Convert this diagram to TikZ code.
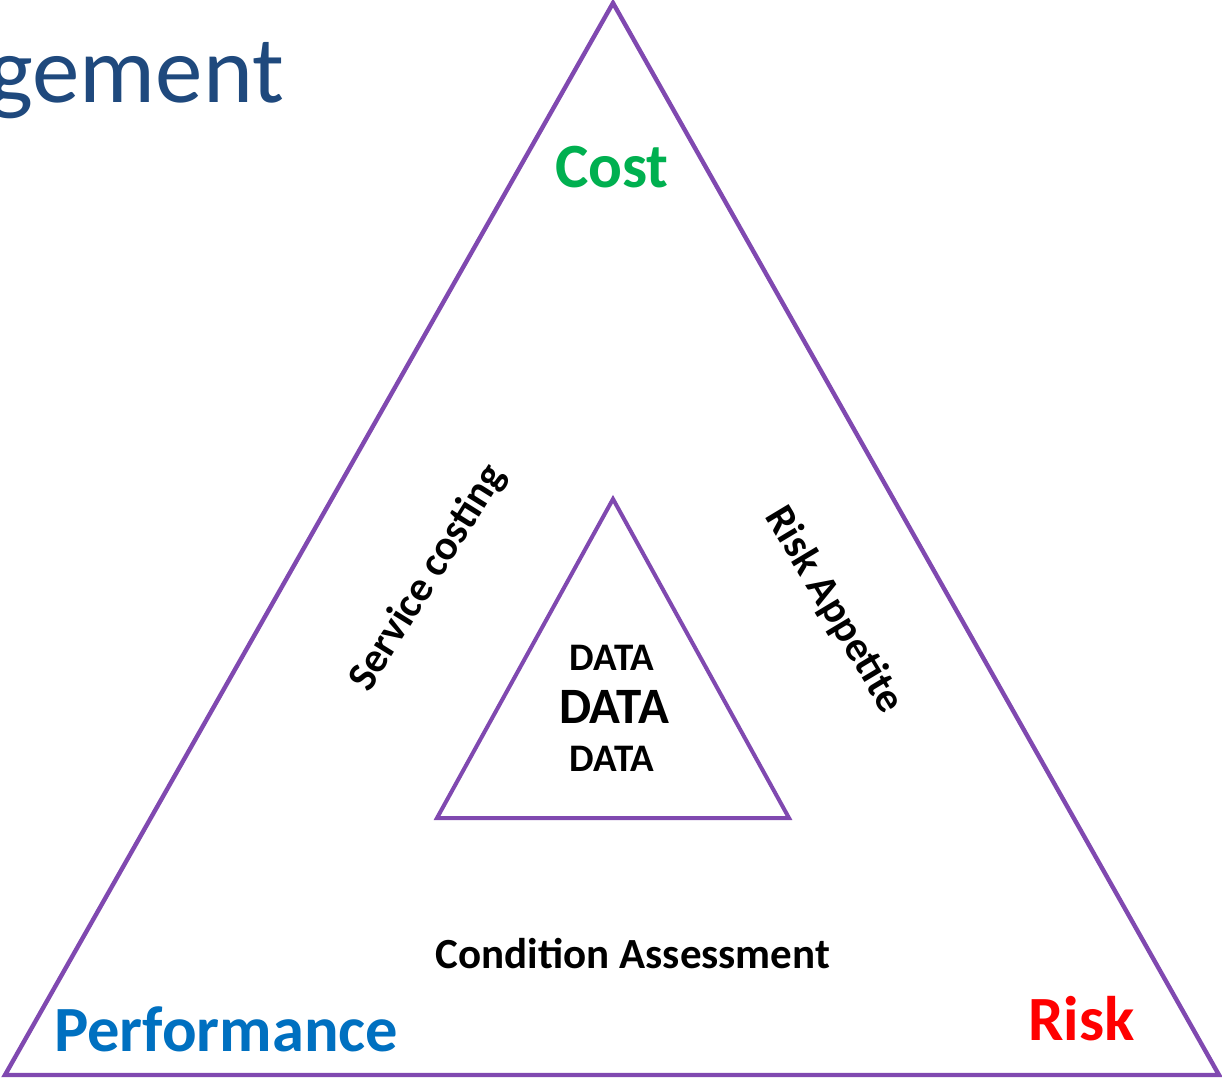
\documentclass[tikz,border=0pt]{standalone}
\usepackage{fontspec}
\setmainfont{Carlito}
\definecolor{tripurple}{HTML}{8049B0}
\definecolor{titleblue}{HTML}{1F497D}
\definecolor{costgreen}{HTML}{00B050}
\definecolor{perfblue}{HTML}{0070C0}
\definecolor{riskred}{HTML}{FF0000}
\begin{document}
\begin{tikzpicture}[x=1pt,y=-1pt,
  tri/.style={draw=tripurple,line width=4.4pt,line join=miter},
  corner/.style={font=\fontsize{63}{70}\selectfont\bfseries,inner sep=0pt},
  side/.style={font=\fontsize{42}{48}\selectfont\bfseries,inner sep=0pt},
  datasm/.style={font=\fontsize{39}{44}\selectfont\bfseries,inner sep=0pt,anchor=base},
  databig/.style={font=\fontsize{51}{56}\selectfont\bfseries,inner sep=0pt,anchor=base}]
\useasboundingbox (0,0) rectangle (1222,1079);
\clip (0,0) rectangle (1222,1079);
\fill[white] (0,0) rectangle (1222,1079);
% outer triangle
\coordinate (oa) at (613,3);
\coordinate (ol) at (5,1075);
\coordinate (or) at (1219,1075);
\draw[tri] (oa) -- (ol) -- (or) -- cycle;
% inner triangle
\coordinate (ia) at (613,499);
\coordinate (il) at (437,818);
\coordinate (ir) at (789,818);
\draw[tri,line width=4pt] (ia) -- (il) -- (ir) -- cycle;
% title fragment
\node[font=\fontsize{95}{100}\selectfont,text=titleblue,inner sep=0pt,anchor=base east] (title) at (284,102) {gement};
% corner labels
\node[corner,text=costgreen,anchor=base] (cost) at (612,187) {Cost};
\node[corner,text=perfblue,anchor=base west,font=\fontsize{64.5}{70}\selectfont\bfseries] (perf) at (54,1051) {Performance};
\node[corner,text=riskred,anchor=base west] (risk) at (1028,1040) {Risk};
% side labels
\node[side,rotate=58] (svc) at (428,578) {Service costing};
\node[side,rotate=-59] (rapp) at (834,610) {Risk Appetite};
\node[side,anchor=base,font=\fontsize{43}{48}\selectfont\bfseries] (cond) at (633,968) {Condition Assessment};
% data
\node[datasm] (d1) at (612,670) {DATA};
\node[databig] (d2) at (614,723) {DATA};
\node[datasm] (d3) at (612,771) {DATA};
\end{tikzpicture}
\end{document}
